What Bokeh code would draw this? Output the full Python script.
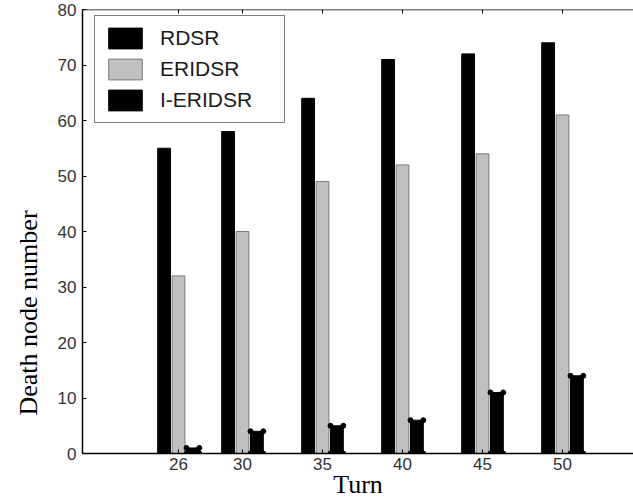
from bokeh.plotting import figure
from bokeh.models import Range1d, FixedTicker, Legend, LegendItem, Span, Title
from bokeh.embed import file_html
from bokeh.resources import INLINE

# ---- data ----
turns = [26, 30, 35, 40, 45, 50]
rdsr = [55, 58, 64, 71, 72, 74]
eridsr = [32, 40, 49, 52, 54, 61]
ieridsr = [1, 4, 5, 6, 11, 14]
y_ticks = [0, 10, 20, 30, 40, 50, 60, 70, 80]
series_names = ["RDSR", "ERIDSR", "I-ERIDSR"]
y_max = 80

# ---- layout constants ----
OFF = 0.9
BW = 0.8
X0 = 20.0
PX_PER_X = 16.0
FRAME_W = 551
FRAME_H = 444
PX_PER_Y = FRAME_H / y_max

p = figure(width=633, height=501,
           x_range=Range1d(X0, X0 + FRAME_W / PX_PER_X),
           y_range=Range1d(0, y_max),
           output_backend="svg", toolbar_location=None,
           min_border_left=82, min_border_right=0,
           min_border_top=9, min_border_bottom=48)
p.outline_line_color = None
p.xgrid.grid_line_color = None
p.ygrid.grid_line_color = None
p.background_fill_color = "white"

x1 = [t - OFF for t in turns]
x3 = [t + OFF for t in turns]

r1 = p.vbar(x=x1, top=rdsr, width=BW, fill_color="black", line_color="black")
r2 = p.vbar(x=turns, top=eridsr, width=BW, fill_color="#c0c0c0", line_color="#7a7a7a")
r3 = p.vbar(x=x3, top=ieridsr, width=BW, fill_color="black", line_color="black")

cx, cy = [], []
for xc, v in zip(x3, ieridsr):
    for dx in (-BW / 2, BW / 2):
        for yy in (0, v):
            cx.append(xc + dx)
            cy.append(yy)
p.scatter(cx, cy, size=5, marker="circle", color="black")

for ax, ticks in ((p.xaxis, turns), (p.yaxis, y_ticks)):
    ax.ticker = FixedTicker(ticks=ticks)
    ax.major_tick_in = 4
    ax.major_tick_out = 0
    ax.minor_tick_line_color = None
    ax.axis_line_width = 1.5
    ax.axis_line_color = "black"
    ax.major_tick_line_color = "black"
    ax.major_label_text_font = "Liberation Sans"
    ax.major_label_text_font_size = "17px"
    ax.major_label_text_color = "#333333"

p.xaxis.major_label_standoff = 4
p.yaxis.major_label_standoff = 6

p.xaxis.axis_label = "Turn"
p.xaxis.axis_label_text_font = "Liberation Serif"
p.xaxis.axis_label_text_font_size = "26px"
p.xaxis.axis_label_text_font_style = "normal"
p.xaxis.axis_label_text_color = "black"
p.xaxis.axis_label_standoff = -3

# top border with inward ticks
p.add_layout(Span(location=y_max, dimension="width", line_color="black", line_width=1.5))
p.segment(x0=turns, y0=[y_max] * len(turns), x1=turns,
          y1=[y_max - 4 / PX_PER_Y] * len(turns), line_color="black", line_width=1)

ytitle = Title(text="Death node number", align="left", offset=38, standoff=23,
               text_font="Liberation Serif", text_font_size="26px",
               text_font_style="normal", text_color="black")
p.add_layout(ytitle, "left")

legend = Legend(items=[LegendItem(label=series_names[0], renderers=[r1]),
                       LegendItem(label=series_names[1], renderers=[r2]),
                       LegendItem(label=series_names[2], renderers=[r3])],
                location=(12, 330), padding=9, spacing=5,
                glyph_width=42, glyph_height=26, label_standoff=14, label_width=115,
                label_text_font="Liberation Sans", label_text_font_size="21px",
                label_text_color="#1a1a1a",
                border_line_color="#808080", border_line_width=1, border_line_alpha=1,
                background_fill_alpha=1)
p.add_layout(legend)

open("out.html", "w").write(file_html(p, INLINE))
